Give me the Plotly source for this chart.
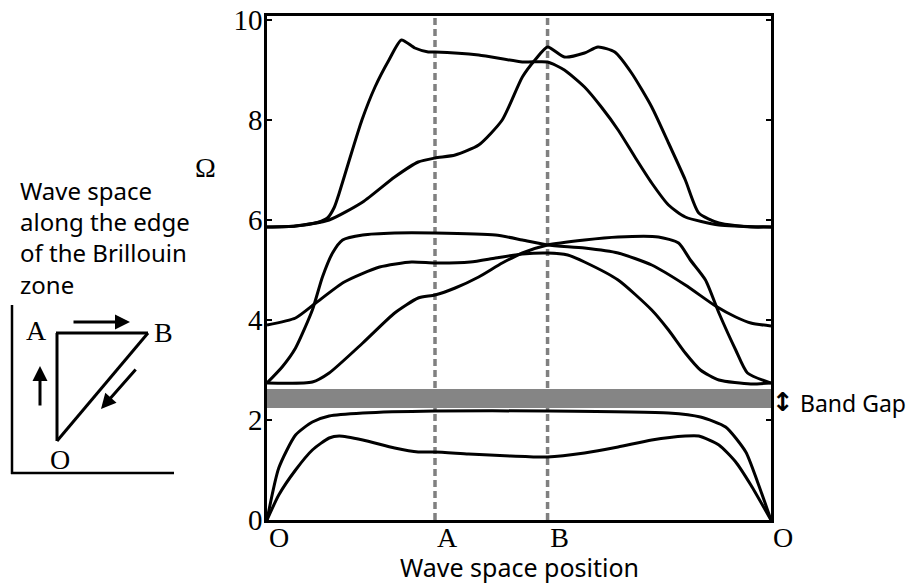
import plotly.graph_objects as go

# ---------------- data ----------------
TICK_POS = [0.0, 1.0, 1.67, 3.0]
TICK_TEXT = ["O", "A", "B", "O"]
Y_TICKS = [0, 2, 4, 6, 8, 10]
SYMMETRY_POS = [1.0, 1.67]          # A and B
BAND_GAP = [2.24, 2.62]

BAND1_K = [0, 0.07, 0.17, 0.27, 0.37, 0.43, 0.57, 0.76, 0.9, 1.0, 1.2, 1.45, 1.67, 1.89, 2.09, 2.29, 2.49, 2.57, 2.69, 2.79, 2.88, 3.0]
BAND1_W = [0, 0.5, 1.0, 1.4, 1.64, 1.68, 1.6, 1.44, 1.36, 1.36, 1.32, 1.28, 1.26, 1.34, 1.46, 1.6, 1.68, 1.68, 1.5, 1.16, 0.7, 0]

BAND2_K = [0, 0.07, 0.17, 0.27, 0.37, 0.57, 1.0, 1.67, 2.39, 2.58, 2.73, 2.85, 2.92, 3.0]
BAND2_W = [0, 1.04, 1.7, 1.96, 2.08, 2.14, 2.18, 2.18, 2.14, 2.06, 1.86, 1.36, 0.76, 0]

BAND3_K = [0, 0.27, 0.37, 0.57, 0.76, 0.9, 1.0, 1.12, 1.26, 1.4, 1.52, 1.67, 1.89, 2.09, 2.33, 2.45, 2.52, 2.61, 2.69, 2.79, 2.86, 3.0]
BAND3_W = [2.74, 2.76, 2.94, 3.54, 4.14, 4.44, 4.5, 4.64, 4.86, 5.14, 5.34, 5.5, 5.6, 5.66, 5.66, 5.54, 5.2, 4.8, 4.14, 3.4, 2.94, 2.74]

BAND4_K = [0, 0.09, 0.17, 0.27, 0.33, 0.39, 0.45, 0.57, 0.76, 1.0, 1.36, 1.52, 1.67, 1.89, 2.09, 2.29, 2.49, 2.67, 2.79, 2.88, 3.0]
BAND4_W = [2.74, 3.06, 3.44, 4.2, 4.86, 5.34, 5.6, 5.7, 5.74, 5.74, 5.7, 5.6, 5.5, 5.44, 5.34, 5.1, 4.7, 4.28, 4.06, 3.94, 3.88]

BAND5_K = [0, 0.17, 0.29, 0.46, 0.67, 0.86, 1.0, 1.21, 1.36, 1.52, 1.67, 1.79, 1.89, 2.09, 2.29, 2.39, 2.49, 2.58, 2.69, 2.88, 3.0]
BAND5_W = [3.9, 4.04, 4.34, 4.76, 5.06, 5.16, 5.14, 5.16, 5.24, 5.32, 5.34, 5.3, 5.16, 4.8, 4.2, 3.8, 3.34, 3.0, 2.8, 2.72, 2.74]

BAND6_K = [0, 0.17, 0.37, 0.57, 0.76, 0.9, 1.0, 1.12, 1.26, 1.4, 1.52, 1.6, 1.67, 1.77, 1.89, 1.97, 2.07, 2.17, 2.29, 2.39, 2.49, 2.57, 2.69, 2.88, 3.0]
BAND6_W = [5.86, 5.88, 6.0, 6.36, 6.86, 7.16, 7.24, 7.3, 7.5, 8.0, 8.86, 9.22, 9.46, 9.26, 9.34, 9.46, 9.36, 8.94, 8.26, 7.54, 6.8, 6.14, 5.94, 5.86, 5.86]

BAND7_K = [0, 0.17, 0.3, 0.36, 0.4, 0.43, 0.49, 0.565, 0.643, 0.726, 0.80, 0.88, 0.96, 1.0, 1.26, 1.52, 1.67, 1.77, 1.89, 1.99, 2.09, 2.19, 2.29, 2.39, 2.49, 2.69, 3.0]
BAND7_W = [5.86, 5.88, 5.95, 6.04, 6.25, 6.54, 7.2, 8.0, 8.66, 9.2, 9.6, 9.44, 9.36, 9.36, 9.3, 9.16, 9.16, 9.0, 8.66, 8.26, 7.8, 7.26, 6.74, 6.3, 6.06, 5.9, 5.86]

BANDS = [(BAND1_K, BAND1_W), (BAND2_K, BAND2_W), (BAND3_K, BAND3_W), (BAND4_K, BAND4_W),
         (BAND5_K, BAND5_W), (BAND6_K, BAND6_W), (BAND7_K, BAND7_W)]

# ---------------- figure ----------------
OFF = 8                      # page body margin of the html file
W, H = 914 - OFF, 585 - OFF
ML, MT, PW, PH = 267 - OFF, 16 - OFF, 504, 504
MR, MB = W - ML - PW, H - MT - PH


def px(x):
    """window pixel x -> paper x"""
    return (x - OFF - ML) / PW


def py(y):
    """window pixel y -> paper y"""
    return (MT + PH - (y - OFF)) / PH


SERIF = "Liberation Serif"
SANS = "Noto Sans"

fig = go.Figure()

for xv in SYMMETRY_POS:
    fig.add_trace(go.Scatter(x=[xv, xv], y=[0, 10.08], mode="lines",
                             line=dict(color="#808080", width=3.5, dash="7px,4px"),
                             showlegend=False, hoverinfo="skip"))

for k, w in BANDS:
    fig.add_trace(go.Scatter(x=k, y=w, mode="lines",
                             line=dict(color="black", width=3, shape="spline", smoothing=0.6),
                             showlegend=False))

shapes = [
    dict(type="rect", xref="x", yref="y", x0=TICK_POS[0], x1=TICK_POS[-1],
         y0=BAND_GAP[0], y1=BAND_GAP[1], fillcolor="#858585", line=dict(width=0), layer="above"),
]


def seg(x0, y0, x1, y1, w=3):
    return dict(type="line", xref="paper", yref="paper", x0=px(x0), y0=py(y0), x1=px(x1), y1=py(y1),
                line=dict(color="black", width=w))


# inset diagram (Brillouin zone path)
shapes += [
    seg(12, 305, 12, 474, 2.5),
    seg(11, 473, 174, 473, 2.5),
    seg(57, 333, 57, 441),
    seg(56, 333, 148, 333),
    seg(148, 333, 57, 441),
]


def label(text, x, y, family, size, xanchor="center", yanchor="middle", **kw):
    return dict(text=text, x=px(x), y=py(y), xref="paper", yref="paper", showarrow=False,
                font=dict(family=family, size=size, color="black"),
                xanchor=xanchor, yanchor=yanchor, **kw)


def arrow(hx, hy, ax, ay, width=3, size=1.0, side="end"):
    return dict(text="", x=px(hx), y=py(hy), ax=ax, ay=ay, xref="paper", yref="paper",
                showarrow=True, arrowhead=2, arrowside=side, arrowsize=size,
                arrowwidth=width, arrowcolor="black")


annotations = [
    label("Ω", 205, 167, SERIF, 28),
    label("Wave space position", 519, 567, SANS, 25),
    label("Wave space<br>along the edge<br>of the Brillouin<br>zone", 18, 172, SANS, 24,
          xanchor="left", yanchor="top", align="left"),
    label("Band Gap", 798, 403, SANS, 23, xanchor="left"),
    label("<b>↕</b>", 783, 402, "DejaVu Sans", 26),
    label("A", 36, 330, SERIF, 28),
    label("B", 163, 332, SERIF, 28),
    label("O", 60, 459, SERIF, 28),
    arrow(130, 322, -58, 0),
    arrow(40, 366, 0, 41),
    arrow(101, 409, 36, -41),
]

fig.update_layout(
    width=W, height=H, autosize=False,
    margin=dict(l=ML, r=MR, t=MT, b=MB, pad=0, autoexpand=False),
    paper_bgcolor="white", plot_bgcolor="white",
    shapes=shapes, annotations=annotations,
    xaxis=dict(range=[TICK_POS[0], TICK_POS[-1]], tickvals=TICK_POS, ticktext=TICK_TEXT,
               automargin=False,
               showgrid=False, zeroline=False, showline=True, linecolor="black", linewidth=2.5,
               mirror=True, ticks="", ticklabelshift=12, ticklabelstandoff=-9,
               tickfont=dict(family=SERIF, size=28, color="black")),
    yaxis=dict(range=[0, 10.08], tickvals=Y_TICKS, showgrid=False, zeroline=False,
               automargin=False,
               showline=True, linecolor="black", linewidth=2.5, mirror="ticks",
               ticks="inside", ticklen=5, tickwidth=2, tickcolor="black",
               ticklabelstandoff=-4, ticklabeloverflow="allow",
               tickfont=dict(family=SERIF, size=29, color="black")),
)

fig.write_html("out.html")
